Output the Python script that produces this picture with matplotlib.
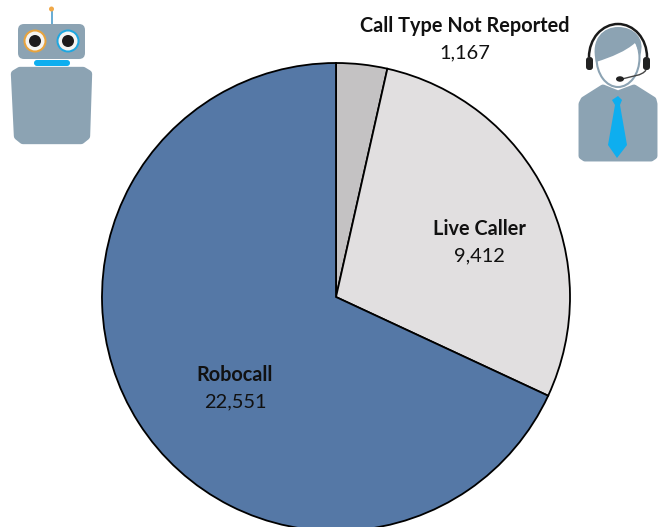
import matplotlib
matplotlib.use('Agg')
import matplotlib.pyplot as plt
from matplotlib.patches import Circle, FancyBboxPatch, Polygon, Ellipse, Arc, PathPatch
from matplotlib.path import Path

categories = ['Call Type Not Reported', 'Live Caller', 'Robocall']
calls = [1167, 9412, 22551]
colors = ['#c4c2c3', '#e1dfe0', '#5578a6']
label_pos = [(465, 26), (479, 229), (235, 375)]

ICON = '#8ca3b3'
EDGE = '#d5dde2'
BLUE = '#0eaeef'
H = 527


def y(py):
    return H - py


def box(ax, x0, y0, x1, y1, r, **kw):
    ax.add_patch(FancyBboxPatch((x0 + r, y(y1) + r), x1 - x0 - 2*r, y1 - y0 - 2*r,
                                boxstyle='round,pad=%f,rounding_size=%f' % (r, r),
                                lw=kw.pop('lw', 0), **kw))


def poly(ax, pts, **kw):
    ax.add_patch(Polygon([(a, y(b)) for a, b in pts], closed=True, **kw))


def curve(ax, pts, **kw):
    codes = [Path.MOVETO] + [Path.CURVE4] * (len(pts) - 1)
    ax.add_patch(PathPatch(Path([(a, y(b)) for a, b in pts], codes), **kw))


def robot(ax):
    ax.plot([51.5, 51.5], [y(10), y(25)], c='#5aa5d0', lw=1.3, zorder=3)
    ax.add_patch(Circle((51.5, y(9)), 2.5, fc='#f0a848', lw=0, zorder=4))
    box(ax, 18, 24, 85, 59, 6, fc=ICON, ec=EDGE, zorder=3)
    for cx, ring in [(35, '#e8a33d'), (68, '#1fa7e0')]:
        ax.add_patch(Circle((cx, y(41)), 11.5, fc=ring, lw=0, zorder=4))
        ax.add_patch(Circle((cx, y(41)), 9.5, fc='#f4f4f2', lw=0, zorder=4))
        ax.add_patch(Circle((cx, y(41)), 6, fc='#1c1a1b', lw=0, zorder=5))
    box(ax, 34, 60, 70, 66, 3, fc=BLUE, zorder=3)
    poly(ax, [(15, 74), (20, 71), (83, 71), (88, 74), (86, 136), (81, 140), (23, 140), (18, 136)],
         fc=ICON, ec=ICON, lw=6, joinstyle='round', zorder=3)


def agent(ax):
    poly(ax, [(603, 88), (618, 94), (634, 88), (653, 100), (654, 104), (654, 156), (651, 158),
              (585, 158), (582, 156), (582, 104), (584, 100)],
         fc=ICON, ec=ICON, lw=5, joinstyle='round', zorder=3)
    # face
    ax.add_patch(Ellipse((618, y(58)), 43, 58, fc='white', ec=ICON, lw=1.5, zorder=4))
    # hair
    curve(ax, [(596, 62), (590, 38), (604, 27), (618, 27), (634, 27), (646, 38), (640, 56),
               (638, 50), (637, 46), (635, 43), (626, 51), (612, 57), (596, 62)],
          fc=ICON, lw=0, zorder=5)
    # headset
    ax.add_patch(Arc((618, y(57)), 58, 66, theta1=0, theta2=180, color='#1a1a1a', lw=1.8, zorder=6))
    box(ax, 586, 57, 593, 70, 3, fc='#222222', zorder=6)
    box(ax, 643, 57, 650, 70, 3, fc='#222222', zorder=6)
    curve(ax, [(646, 70), (642, 76), (632, 76), (622, 79)], fc='none', ec='#444444', lw=1, zorder=6)
    ax.add_patch(Ellipse((620, y(79)), 8, 5.5, fc='#222222', lw=0, zorder=7))
    # tie
    poly(ax, [(618, 96), (622, 100), (620, 105), (627, 145), (617, 158), (608, 145), (615, 105),
              (612, 100)], fc=BLUE, lw=0, zorder=6)


fig = plt.figure(figsize=(6.63, 5.27), dpi=100)
ax = fig.add_axes([0, 0, 1, 1])

ax.pie(calls, colors=colors, startangle=90, counterclock=False,
       center=(336, y(297)), radius=234, frame=True,
       wedgeprops={'edgecolor': 'black', 'linewidth': 1.3})
ax.set_xlim(0, 663)
ax.set_ylim(0, H)
ax.set_aspect('equal')
ax.axis('off')

for name, val, (tx, ty) in zip(categories, calls, label_pos):
    ax.text(tx, y(ty), name, ha='center', va='center', fontsize=14.3, fontweight='bold',
            family='Lato', color='#111111', zorder=8)
    ax.text(tx, y(ty + 27), format(val, ','), ha='center', va='center', fontsize=14.4,
            family='Lato', color='#111111', zorder=8)

robot(ax)
agent(ax)

fig.savefig('out.png', dpi=100)
